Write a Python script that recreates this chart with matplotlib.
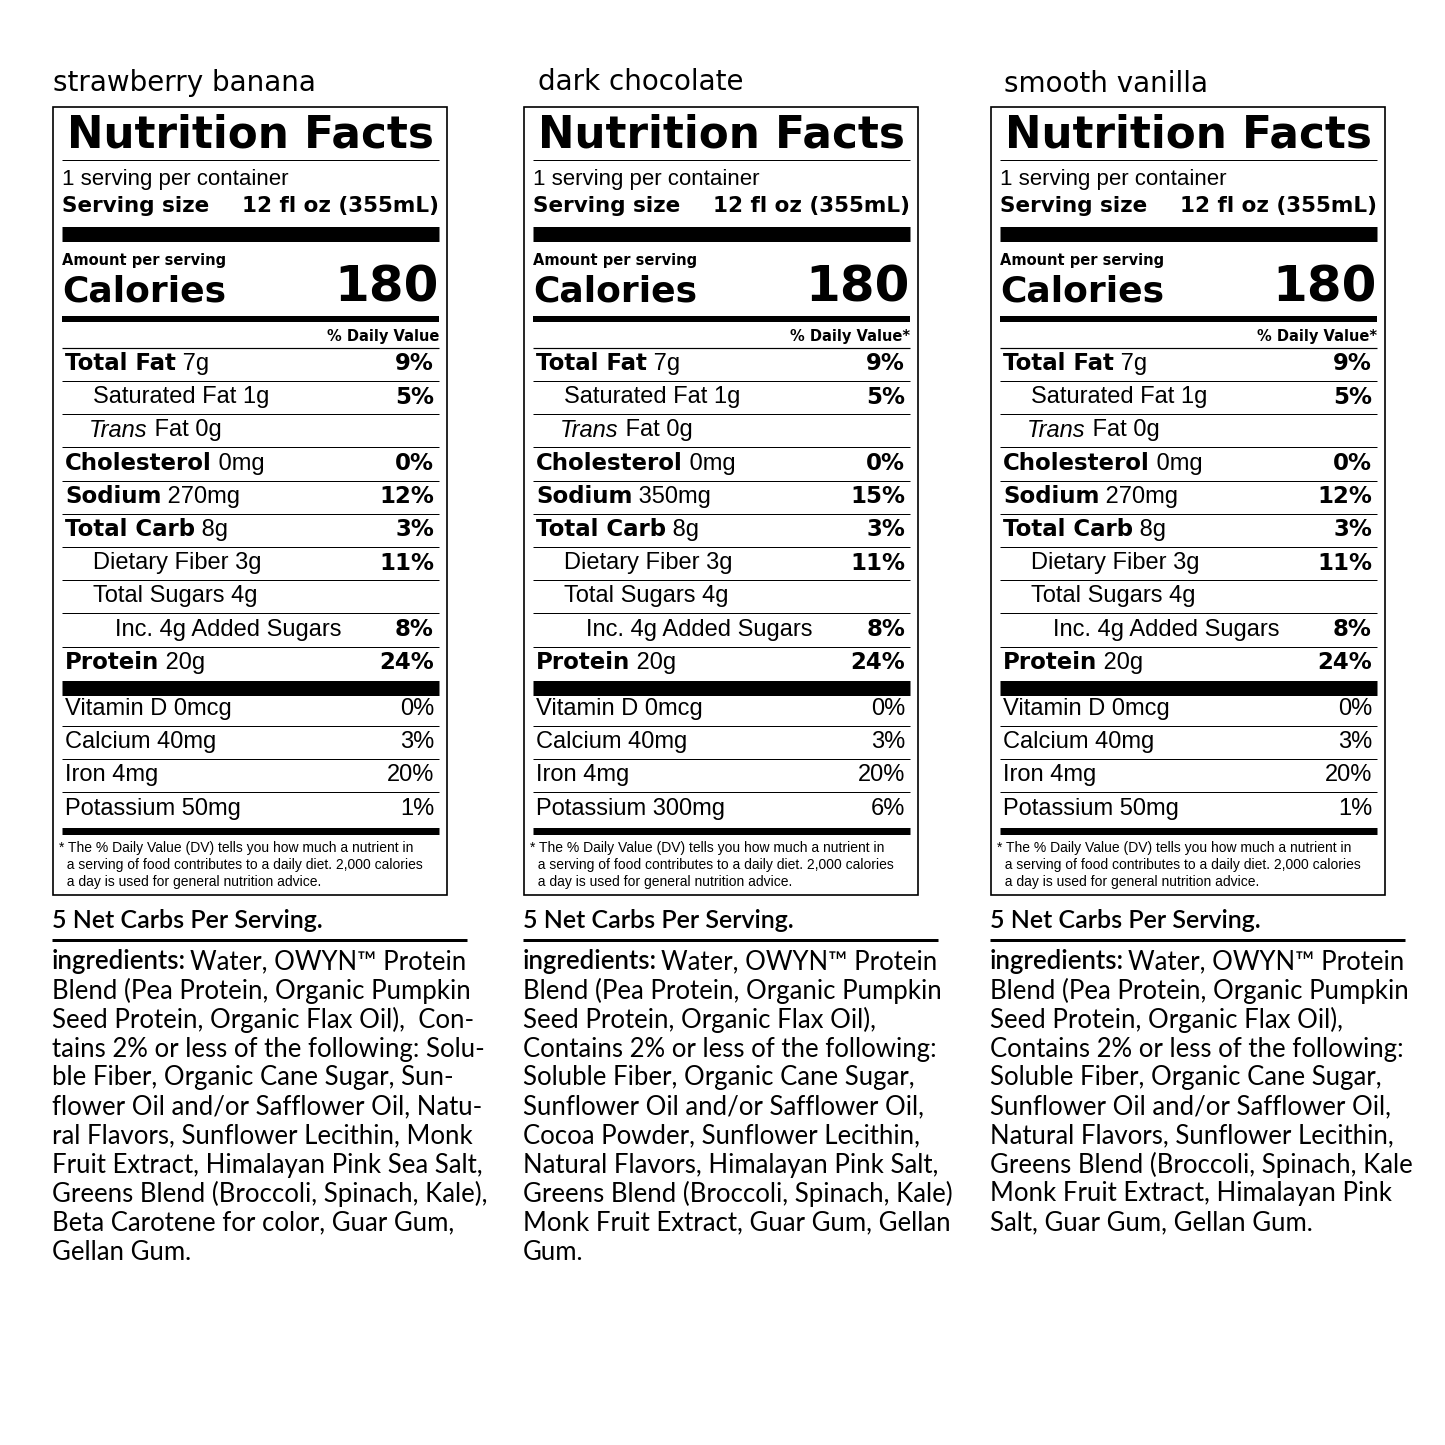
import matplotlib
matplotlib.use("Agg")
import matplotlib.pyplot as plt

titles = ["strawberry banana", "dark chocolate", "smooth vanilla"]
box_x = [53, 524, 991]
title_x = [53, 538, 1004]
title_y = [83, 82, 84]
sodium = [("270mg", "12%"), ("350mg", "15%"), ("270mg", "12%")]
potassium = [("50mg", "1%"), ("300mg", "6%"), ("50mg", "1%")]
dv_star = ["", "*", "*"]
ingredients = [
    ["Water, OWYN\u2122 Protein", "Blend (Pea Protein, Organic Pumpkin", "Seed Protein, Organic Flax Oil),  Con-",
     "tains 2% or less of the following: Solu-", "ble Fiber, Organic Cane Sugar, Sun-",
     "flower Oil and/or Safflower Oil, Natu-", "ral Flavors, Sunflower Lecithin, Monk",
     "Fruit Extract, Himalayan Pink Sea Salt,", "Greens Blend (Broccoli, Spinach, Kale),",
     "Beta Carotene for color, Guar Gum,", "Gellan Gum."],
    ["Water, OWYN\u2122 Protein", "Blend (Pea Protein, Organic Pumpkin", "Seed Protein, Organic Flax Oil),",
     "Contains 2% or less of the following:", "Soluble Fiber, Organic Cane Sugar,",
     "Sunflower Oil and/or Safflower Oil,", "Cocoa Powder, Sunflower Lecithin,",
     "Natural Flavors, Himalayan Pink Salt,", "Greens Blend (Broccoli, Spinach, Kale)",
     "Monk Fruit Extract, Guar Gum, Gellan", "Gum."],
    ["Water, OWYN\u2122 Protein", "Blend (Pea Protein, Organic Pumpkin", "Seed Protein, Organic Flax Oil),",
     "Contains 2% or less of the following:", "Soluble Fiber, Organic Cane Sugar,",
     "Sunflower Oil and/or Safflower Oil,", "Natural Flavors, Sunflower Lecithin,",
     "Greens Blend (Broccoli, Spinach, Kale", "Monk Fruit Extract, Himalayan Pink",
     "Salt, Guar Gum, Gellan Gum."],
]

fig = plt.figure(figsize=(14.45, 14.45), dpi=100)
ax = fig.add_axes([0, 0, 1, 1])
ax.set_xlim(0, 1445); ax.set_ylim(1445, 0); ax.axis("off")
fig.canvas.draw()
R = fig.canvas.get_renderer()
F = "Liberation Sans"
D = "DejaVu Sans"

def txt(x, y, s, size, weight="normal", ha="left", style="normal", family=F):
    return ax.text(x, y, s, fontsize=size, fontweight=weight, ha=ha, va="center",
                   fontstyle=style, family=family)

def width(t):
    return t.get_window_extent(R).width

def hline(x0, x1, y, px):
    ax.plot([x0, x1], [y, y], color="black", lw=px * 0.72, solid_capstyle="butt")

for i in range(3):
    L = box_x[i]; Rt = L + 394
    il, ir = L + 9, Rt - 8
    txt(title_x[i], title_y[i], titles[i], 20, family=D)
    ax.add_patch(plt.Rectangle((L, 107), 394, 788, fill=False, lw=1.2, ec="black"))
    txt((il + ir) / 2, 135, "Nutrition Facts", 31.5, "heavy", ha="center", family=D)
    hline(il, ir, 160, 1)
    txt(il, 180, "1 serving per container", 16)
    txt(il, 206, "Serving size", 15.5, "bold", family=D)
    txt(ir, 206, "12 fl oz (355mL)", 15.5, "bold", ha="right", family=D)
    hline(il, ir, 234, 15)
    txt(il, 260, "Amount per serving", 10.5, "bold", family=D)
    txt(il, 291, "Calories", 26, "heavy", family=D)
    txt(ir, 287, "180", 36, "heavy", ha="right", family=D)
    hline(il, ir, 319, 6)
    txt(ir, 337, "% Daily Value" + dv_star[i], 10.5, "bold", ha="right", family=D)
    hline(il, ir, 348, 1.2)
    rows = [
        ("Total Fat", " 7g", "9%", 0, True, False),
        ("", "Saturated Fat 1g", "5%", 28, False, False),
        ("", "Trans Fat 0g", "", 24, False, True),
        ("Cholesterol", " 0mg", "0%", 0, True, False),
        ("Sodium", " " + sodium[i][0], sodium[i][1], 0, True, False),
        ("Total Carb", " 8g", "3%", 0, True, False),
        ("", "Dietary Fiber 3g", "11%", 28, False, False),
        ("", "Total Sugars 4g", "", 28, False, False),
        ("", "Inc. 4g Added Sugars", "8%", 50, False, False),
        ("Protein", " 20g", "24%", 0, True, False),
    ]
    y = 364
    for k, (b, n, dv, ind, bold, ital) in enumerate(rows):
        x = il + 3 + ind
        if ital:
            t = txt(x, y, "Trans", 17, style="italic")
            txt(x + width(t), y, " Fat 0g", 17)
        elif bold:
            t = txt(x, y, b, 16.5, "bold", family=D)
            txt(x + width(t), y, n, 17)
        else:
            txt(x, y, n, 17)
        if dv:
            txt(ir - 5, y, dv, 16.5, "bold", ha="right", family=D)
        if k < 9:
            hline(il, ir, y + 17, 1)
        y += 33.2
    hline(il, ir, 688, 15)
    vit = [("Vitamin D 0mcg", "0%"), ("Calcium 40mg", "3%"), ("Iron 4mg", "20%"),
           ("Potassium " + potassium[i][0], potassium[i][1])]
    y = 709
    for k, (n, dv) in enumerate(vit):
        txt(il + 3, y, n, 17)
        txt(ir - 5, y, dv, 17, ha="right")
        if k < 3:
            hline(il, ir, y + 17, 1)
        y += 33.2
    hline(il, ir, 831, 7)
    fn = ["* The % Daily Value (DV) tells you how much a nutrient in",
          "  a serving of food contributes to a daily diet. 2,000 calories",
          "  a day is used for general nutrition advice."]
    for k, s in enumerate(fn):
        txt(L + 6, 848 + 17 * k, s, 10)
    txt(L - 1, 920, "5 Net Carbs Per Serving.", 18, family="Lato", weight="semibold")
    hline(L - 1, L + 414, 940, 3)
    y = 962
    for k, s in enumerate(ingredients[i]):
        if k == 0:
            t = txt(L - 1, y, "ingredients:", 18.5, "semibold", family="Lato")
            txt(L - 1 + width(t) + 4, y, s, 18.5, family="Lato")
        else:
            txt(L - 1, y, s, 18.5, family="Lato")
        y += 29

fig.savefig("out.png", dpi=100, facecolor="white")
